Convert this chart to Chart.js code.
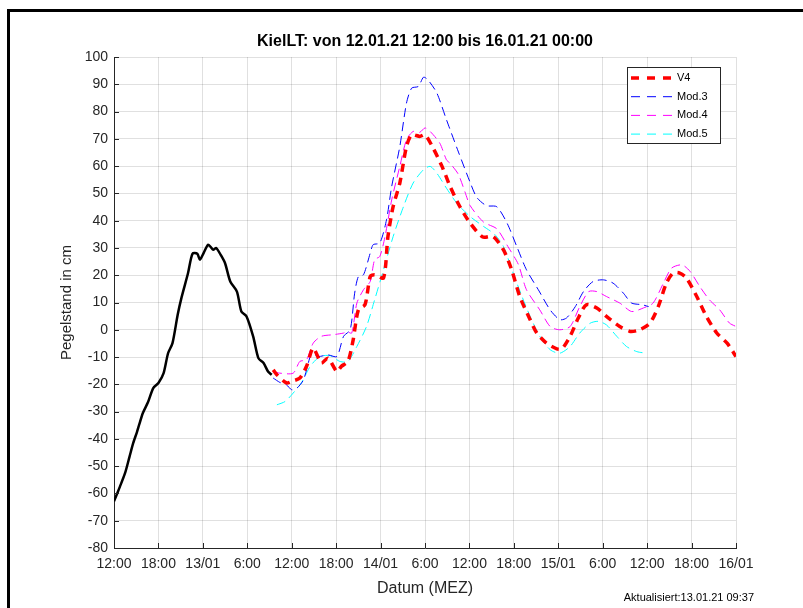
<!DOCTYPE html>
<html>
<head>
<meta charset="utf-8">
<title>KielLT Pegel</title>
<script src="https://cdn.jsdelivr.net/npm/chart.js@4.4.0/dist/chart.umd.min.js"></script>
<style>
  body { margin: 0; background: #fff; }
  #wrap { position: relative; width: 803px; height: 608px; overflow: hidden; }
  #frame { position: absolute; left: 7px; top: 9px; width: 820px; height: 620px;
           border-left: 3px solid #000; border-top: 3px solid #000; }
  #c { position: absolute; left: 0; top: 0; }
</style>
</head>
<body>
<div id="wrap">
  <div id="frame"></div>
  <canvas id="c" width="803" height="608"></canvas>
</div>
<script>
// x in hours since 12.01.21 12:00
const tickLabels = ['12:00','18:00','13/01','6:00','12:00','18:00','14/01','6:00','12:00','18:00','15/01','6:00','12:00','18:00','16/01'];

// gemessen (schwarz)
const obsHours = [0, 0.8, 1.5, 2.1, 2.6, 3.1, 3.4, 3.9, 4.6, 5.3, 6.0, 6.7, 7.3, 7.9, 8.6, 9.1, 10.0, 10.6, 11.25, 11.6, 12.1, 12.7, 13.1, 13.4, 13.8, 14.4, 15.0, 15.7, 16.6, 17.2, 17.9, 18.8, 19.5, 20.2, 20.8, 21.3];
const obsLevel = [-62.9, -57.5, -52.5, -46.5, -41.5, -37.5, -34.8, -30.5, -26.5, -21.4, -19.5, -15.9, -8.6, -4.9, 5.5, 11.6, 20.8, 27.9, 27.9, 25.7, 28.1, 31.2, 30.2, 29.3, 30.0, 27.5, 24.4, 17.7, 14.0, 6.7, 4.9, -2.5, -10.4, -12.2, -15.3, -16.5];

const v4Hours = [21.5, 22, 23.3, 24.0, 25.1, 26.0, 26.9, 28.0, 28.9, 30.1, 30.7, 31.6, 32.3, 33.0, 33.9, 34.6, 35.2, 36.4, 37.0, 37.7, 38.6, 39.5, 40.2, 41.3, 42.0, 43.1, 44.3, 45.4, 46.7, 48.1, 49.8, 51.2, 52.6, 53.7, 54.8, 56.2, 57.1, 58.4, 59.8, 60.5, 61.6, 62.7, 63.8, 65.2, 66.5, 68.3, 69.7, 71.0, 72.4, 73.5, 74.6, 75.5, 76.4, 77.3, 78.7, 80.0, 81.4, 82.8, 84];
const v4Level = [-14.7, -16.5, -19.5, -18.9, -17.7, -13.4, -6.7, -12.2, -10.4, -15.3, -13.4, -11.6, -3.7, 7.3, 9.2, 19.5, 20.2, 19.0, 34.3, 45.2, 53.8, 67.2, 71.5, 70.9, 71.5, 66.6, 59.9, 52.5, 45.2, 39.1, 34.0, 34.2, 29.3, 22.0, 12.2, 3.7, -1.2, -4.9, -7.0, -7.0, -2.4, 4.3, 9.2, 8.0, 4.9, 1.2, -0.6, 0, 2.5, 8.5, 17.1, 20.8, 20.8, 19.0, 12.2, 4.9, -1.2, -4.9, -9.8];

const mod3Hours = [21.5, 22.4, 23.3, 24, 24.7, 25.6, 26.7, 27.6, 28.9, 30.1, 31.0, 31.9, 32.5, 33.0, 33.7, 34.6, 35.0, 35.9, 36.8, 37.5, 38.6, 39.5, 40.2, 41.1, 41.8, 42.4, 43.6, 44.9, 46.4, 48.1, 49.0, 50.3, 51.7, 53.1, 54.4, 55.7, 57.3, 58.9, 60.2, 61.1, 62.3, 63.4, 64.7, 66.1, 67.4, 68.8, 69.9, 71.3, 72.2];
const mod3Level = [-17.7, -19.3, -20.2, -22, -21.4, -18.3, -8.6, -9.8, -9.2, -9.8, -2.4, 0, 13.4, 19.5, 20.2, 28.1, 31.2, 31.8, 40.3, 52.5, 67.2, 83.1, 88.6, 89.2, 92.6, 91.6, 86.8, 77.0, 66.0, 54.0, 48.5, 45.5, 45.1, 39.0, 30.5, 22.0, 14.7, 7.3, 3.7, 4.3, 8.5, 14.0, 17.7, 18.3, 17.1, 13.4, 9.8, 9.2, 8.5];

const mod4Hours = [21.5, 22.4, 24.2, 25.1, 26.0, 26.9, 28, 29.6, 31, 31.4, 32.1, 32.8, 33.7, 34.6, 35.2, 35.9, 36.6, 37.5, 38.6, 39.5, 40.4, 41.3, 42, 42.7, 44.0, 44.9, 45.4, 46.5, 47.4, 48.1, 49.9, 51.7, 53.2, 54.6, 55.7, 57.5, 58.9, 60.2, 61.6, 62.9, 64.1, 65.2, 66.5, 68.3, 69.9, 71.5, 72.8, 74.2, 75.3, 76.7, 77.8, 79.1, 80.4, 81.8, 83.1, 84];
const mod4Level = [-15.3, -15.9, -15.9, -11.6, -11, -4.9, -2.4, -1.8, -1.2, -0.6, -1.2, 9.8, 14.7, 17.7, 25.7, 26.9, 34.2, 47.6, 59.9, 69.7, 72.7, 72.4, 74, 72.7, 68.4, 62.3, 61, 57, 50.5, 45.5, 39.5, 37, 30.5, 24, 14.7, 7.3, 1.2, 0, 1.2, 8.5, 14, 14, 12.2, 9.8, 6.7, 8.0, 9.8, 17.1, 22.6, 23.8, 21.4, 15.9, 11.0, 7.3, 2.5, 1.2];

const mod5Hours = [22, 23.1, 24.2, 25.3, 26.5, 27.8, 29.2, 30.5, 31.6, 32.8, 34.1, 35.2, 36.4, 37.7, 39.1, 40.4, 41.8, 42.7, 43.6, 44.9, 46.3, 48.1, 49.9, 51.4, 52.6, 53.9, 55.1, 56.2, 57.5, 58.9, 60.2, 61.6, 62.9, 64.3, 65.4, 66.5, 67.9, 69.2, 70.6, 71.9];
const mod5Level = [-27.5, -26.3, -23.2, -19.5, -13.4, -9.8, -9.5, -11.6, -11.6, -6.1, 1.2, 11, 22, 34.2, 45.2, 53.8, 58.7, 59.9, 57.4, 51.9, 46.4, 41.5, 37.9, 35, 30.5, 20.8, 12.2, 4.9, -2.4, -7.3, -8.6, -6.1, -1.2, 2.4, 3.1, 1.8, -2.4, -6.1, -8.0, -8.6];

function pts(xs, ys) { return xs.map((x, i) => ({ x: x, y: ys[i] })); }

const FONT = 'Liberation Sans, Arial, Helvetica, sans-serif';
const DARK = '#262626';

// inward tick marks, legend box inside plot, update stamp
const extras = {
  id: 'extras',
  afterDraw(chart) {
    const ctx = chart.ctx, a = chart.chartArea;
    const xs = chart.scales.x, ys = chart.scales.y;
    ctx.save();
    ctx.strokeStyle = DARK; ctx.lineWidth = 1;
    ctx.beginPath();
    xs.ticks.forEach(t => {
      const px = Math.round(xs.getPixelForValue(t.value)) + 0.5;
      ctx.moveTo(px, a.bottom); ctx.lineTo(px, a.bottom - 5);
    });
    ys.ticks.forEach(t => {
      const py = Math.round(ys.getPixelForValue(t.value)) + 0.5;
      ctx.moveTo(a.left, py); ctx.lineTo(a.left + 5, py);
    });
    ctx.stroke();

    // legend
    const bx = a.right - 109, by = a.top + 10, bw = 93, bh = 76;
    ctx.fillStyle = '#fff';
    ctx.fillRect(bx, by, bw, bh);
    ctx.strokeStyle = DARK;
    ctx.strokeRect(bx + 0.5, by + 0.5, bw, bh);
    ctx.font = '11px ' + FONT;
    ctx.textBaseline = 'middle';
    chart.data.datasets.slice(1).forEach((ds, i) => {
      const ry = by + 11 + i * 18.7;
      ctx.strokeStyle = ds.borderColor;
      ctx.lineWidth = ds.borderWidth;
      ctx.setLineDash(i === 0 ? [8, 8] : [9, 7]);
      ctx.beginPath(); ctx.moveTo(bx + 4, ry); ctx.lineTo(bx + 46, ry); ctx.stroke();
      ctx.setLineDash([]);
      ctx.fillStyle = '#000';
      ctx.fillText(ds.label, bx + 50, ry);
    });

    ctx.font = '11px ' + FONT;
    ctx.fillStyle = '#000';
    ctx.textAlign = 'right';
    ctx.fillText('Aktualisiert:13.01.21 09:37', 754, 598);
    ctx.restore();
  }
};

new Chart(document.getElementById('c'), {
  type: 'line',
  data: {
    datasets: [
      { label: 'Messung', data: pts(obsHours, obsLevel), borderColor: '#000', borderWidth: 2.5 },
      { label: 'V4', data: pts(v4Hours, v4Level), borderColor: '#ff0000', borderWidth: 3.5, borderDash: [8, 6] },
      { label: 'Mod.3', data: pts(mod3Hours, mod3Level), borderColor: '#0000ff', borderWidth: 1, borderDash: [9, 5] },
      { label: 'Mod.4', data: pts(mod4Hours, mod4Level), borderColor: '#ff00ff', borderWidth: 1, borderDash: [9, 5] },
      { label: 'Mod.5', data: pts(mod5Hours, mod5Level), borderColor: '#00ffff', borderWidth: 1, borderDash: [9, 5] }
    ]
  },
  options: {
    responsive: false,
    animation: false,
    parsing: false,
    elements: { point: { radius: 0 }, line: { tension: 0.25, fill: false } },
    layout: { padding: { top: 22, left: 0, right: 67, bottom: 0 } },
    plugins: {
      legend: { display: false },
      tooltip: { enabled: false },
      title: {
        display: true, fullSize: false,
        text: 'KielLT: von 12.01.21 12:00 bis 16.01.21 00:00',
        color: '#000',
        font: { family: FONT, size: 16, weight: 'bold' },
        padding: { top: 10, bottom: 5.8 }
      }
    },
    scales: {
      x: {
        type: 'linear', min: 0, max: 84,
        afterFit: s => { s.height = 60; },
        ticks: {
          stepSize: 6, padding: 8, color: DARK, maxRotation: 0,
          font: { family: FONT, size: 14 },
          callback: v => tickLabels[Math.round(v / 6)]
        },
        grid: { color: 'rgba(0,0,0,0.12)', drawTicks: false },
        border: { color: DARK, width: 1 },
        title: { display: true, text: 'Datum (MEZ)', color: DARK,
                 font: { family: FONT, size: 16 }, padding: { top: 0, bottom: 10 } }
      },
      y: {
        min: -80, max: 100,
        afterFit: s => { s.width = 114; },
        ticks: { stepSize: 10, padding: 6, color: DARK, font: { family: FONT, size: 14 } },
        grid: { color: 'rgba(0,0,0,0.12)', drawTicks: false },
        border: { color: DARK, width: 1 },
        title: { display: true, text: 'Pegelstand in cm', color: DARK,
                 font: { family: FONT, size: 15 }, padding: { top: 58, bottom: 0 } }
      }
    }
  },
  plugins: [extras]
});
</script>
</body>
</html>
